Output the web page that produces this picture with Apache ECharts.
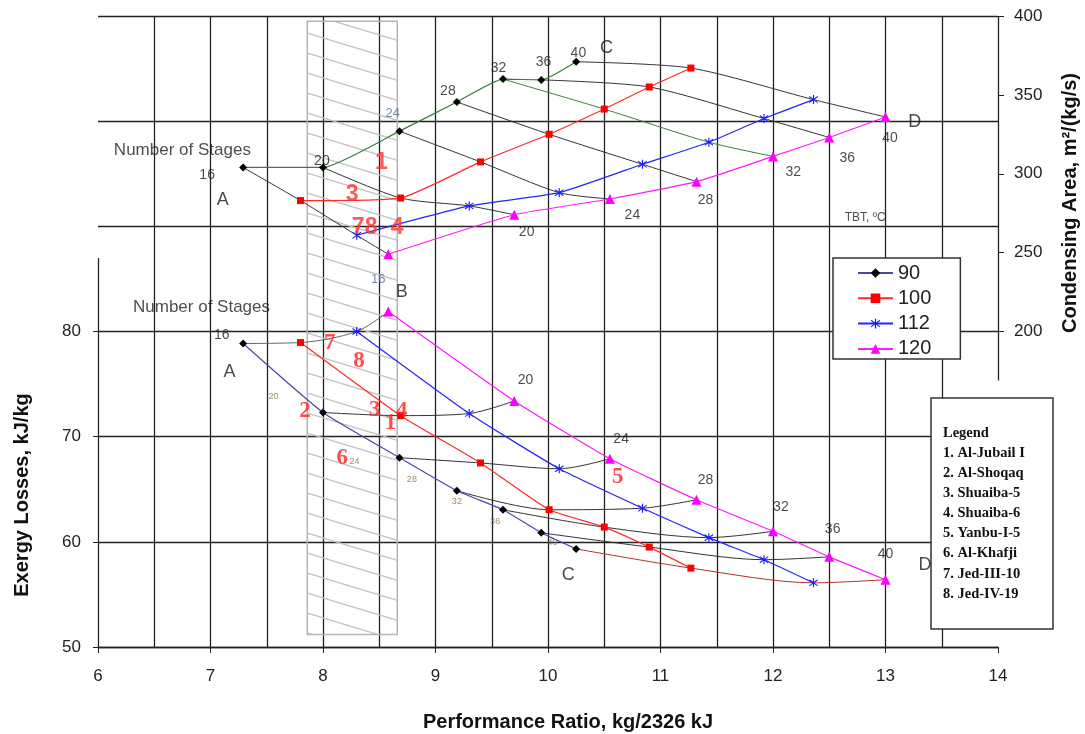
<!DOCTYPE html>
<html><head><meta charset="utf-8">
<script src="https://cdn.jsdelivr.net/npm/echarts@6/dist/echarts.min.js"></script>
<style>html,body{margin:0;padding:0;background:#fff}#c{width:1085px;height:734px}</style>
</head><body><div id="c"></div>
<script>
// ---------------- data ----------------
const stages = [16, 20, 24, 28, 32, 36, 40];
const tbtNames = ['90', '100', '112', '120'];
// performance ratio (x) for each TBT, per number of stages
const pr90  = [7.29, 8.00, 8.68, 9.19, 9.60, 9.94, 10.25];
const pr100 = [7.80, 8.69, 9.40, 10.01, 10.50, 10.90, 11.27];
const pr112 = [8.30, 9.30, 10.10, 10.84, 11.43, 11.92, 12.36];
const pr120 = [8.58, 9.70, 10.55, 11.32, 12.00, 12.50, 13.00];
// condensing area, m2/(kg/s) (upper family, right axis)
const area90  = [304, 304, 327, 345.5, 360, 359.5, 371];
const area100 = [283, 284.6, 307.5, 325, 341, 355, 367];
const area112 = [261, 279.6, 288, 306, 320, 335, 347];
const area120 = [249, 274, 284, 295, 311, 323, 336];
// exergy losses, kJ/kg (lower family, left axis)
const ex90  = [78.86, 72.3, 68.0, 64.86, 63.05, 60.86, 59.33];
const ex100 = [78.95, 72.0, 67.5, 63.05, 61.4, 59.5, 57.5];
const ex112 = [80.0, 72.2, 66.95, 63.2, 60.4, 58.3, 56.1];
const ex120 = [81.9, 73.4, 67.9, 64.0, 61.0, 58.57, 56.4];
// axis ticks
const xTicks = [6, 7, 8, 9, 10, 11, 12, 13, 14];
const leftTicks = [50, 60, 70, 80];
const rightTicks = [200, 250, 300, 350, 400];
// typical plant PR band (x range, left-axis y range)
const plantBandX = [7.86, 8.66];
const plantBandY = [51.2, 109.5];
// plants legend
const plantLines = ['Legend', '1. Al-Jubail I', '2. Al-Shoqaq', '3. Shuaiba-5', '4. Shuaiba-6',
  '5. Yanbu-I-5', '6. Al-Khafji', '7. Jed-III-10', '8. Jed-IV-19'];
// annotations [x, y, text]
const noteUp = [[6.97, 299, '16'], [7.99, 308, '20'], [9.11, 352.5, '28'], [9.56, 367, '32'], [9.96, 371, '36'],
  [10.27, 376.6, '40'], [9.81, 263, '20'], [10.75, 274, '24'], [11.4, 283.4, '28'], [12.18, 301, '32'],
  [12.66, 310, '36'], [13.04, 322.6, '40']];
const noteUpBlue = [[8.62, 338, '24'], [8.49, 233, '16']];
const lettersUp = [[7.11, 283.4, 'A'], [10.52, 380, 'C'], [13.26, 332.8, 'D'], [8.70, 225, 'B']];
const lettersLow = [[7.17, 76.1, 'A'], [10.18, 56.8, 'C'], [13.35, 57.8, 'D']];
const titleUp = [[6.75, 315, 'Number of Stages']];
const titleLow = [[6.92, 82.29, 'Number of Stages']];
const tbtNote = [[12.82, 272, 'TBT, ºC']];
const noteLow = [[7.10, 79.7, '16'], [9.80, 75.4, '20'], [10.65, 69.8, '24'], [11.4, 65.9, '28'],
  [12.07, 63.3, '32'], [12.53, 61.2, '36'], [13.0, 58.86, '40']];
const tinyLow = [[7.56, 73.8, '20'], [8.28, 67.6, '24'], [8.79, 65.9, '28'], [9.19, 63.8, '32'],
  [9.53, 61.9, '36'], [10.04, 59.9, '40']];
const redUp = [[8.52, 306.8, '1'], [8.26, 286.5, '3'], [8.37, 266, '78'], [8.66, 265.6, '4']];
const redLow = [[8.06, 78.86, '7'], [8.32, 77.2, '8'], [7.84, 72.4, '2'], [8.46, 72.5, '3'],
  [8.70, 72.4, '4'], [8.6, 71.3, '1'], [8.17, 68.0, '6'], [10.62, 66.2, '5']];

// ---------------- build ----------------
const SANS = '"Liberation Sans", Arial, sans-serif';
const SERIF = '"Liberation Serif", "Times New Roman", serif';
const ASTER = 'path://M4.4,0H5.6V10H4.4Z M0.3,2.1L0.9,1.1L9.7,7.9L9.1,8.9Z M0.3,7.9L9.1,1.1L9.7,2.1L0.9,8.9Z';
const prs = [pr90, pr100, pr112, pr120];
const areas = [area90, area100, area112, area120];
const exs = [ex90, ex100, ex112, ex120];
const upColors = ['#3c7d3c', '#ff2a2a', '#2424ff', '#ff1aff'];
const lowColors = ['#4848aa', '#ff2a2a', '#2424ff', '#ff1aff'];
const markColors = ['#000', '#ff0000', '#1a1aff', '#ff00ff'];
const symbols = ['diamond', 'rect', ASTER, 'triangle'];
const symSizes = [8, 7, 9, 10];
const GRIDC = '#222';

function zip(xs, ys) { return xs.map((x, i) => [x, ys[i]]); }

function hatch() {
  const c = document.createElement('canvas');
  c.width = 66; c.height = 20;
  const g = c.getContext('2d');
  g.strokeStyle = '#c4c4c4'; g.lineWidth = 1.3;
  for (const dy of [-20, 0, 20]) { g.beginPath(); g.moveTo(0, dy); g.lineTo(66, dy + 20); g.stroke(); }
  return c;
}

const series = [];
// constant-stage lines
stages.forEach((s, i) => {
  const upCol = s === 32 ? '#3c7d3c' : '#333';
  const lowCol = s === 40 ? '#b03030' : (s === 16 ? '#666' : '#333');
  series.push({
    type: 'line', name: 'up' + s, yAxisIndex: 1, symbol: 'none', smooth: 0.25, z: 2,
    lineStyle: { color: upCol, width: 1 }, data: prs.map((p, k) => [p[i], areas[k][i]])
  });
  series.push({
    type: 'line', name: 'low' + s, yAxisIndex: 0, symbol: 'none', smooth: 0.3, z: 2,
    lineStyle: { color: lowCol, width: 1 }, data: prs.map((p, k) => [p[i], exs[k][i]])
  });
});
// TBT curves
tbtNames.forEach((n, k) => {
  series.push({
    type: 'line', name: 'u' + n, yAxisIndex: 1, smooth: 0.15, z: 3,
    symbol: symbols[k], symbolSize: symSizes[k],
    lineStyle: { color: upColors[k], width: 1.2 }, itemStyle: { color: markColors[k] },
    data: zip(prs[k], areas[k])
  });
  const ser = {
    type: 'line', name: n, yAxisIndex: 0, smooth: 0.15, z: 3,
    symbol: symbols[k], symbolSize: symSizes[k],
    lineStyle: { color: lowColors[k], width: 1.2 }, itemStyle: { color: markColors[k] },
    data: zip(prs[k], exs[k])
  };
  if (k === 0) {
    ser.markArea = {
      silent: true,
      itemStyle: { color: { image: hatch(), repeat: 'repeat' }, borderColor: '#b5b5b5', borderWidth: 1.5, opacity: 1 },
      data: [[{ coord: [plantBandX[0], plantBandY[1]] }, { coord: [plantBandX[1], plantBandY[0]] }]]
    };
  }
  series.push(ser);
});

function notes(data, axis, style, extra) {
  return Object.assign({
    type: 'scatter', yAxisIndex: axis, symbolSize: 1, itemStyle: { color: 'rgba(0,0,0,0)' }, silent: true, z: 10, clip: false,
    data: data.map(d => [d[0], d[1], d[2]]),
    label: Object.assign({ show: true, position: 'inside', formatter: p => p.value[2], fontFamily: SANS }, style)
  }, extra || {});
}
series.push(notes(noteUp, 1, { fontSize: 14, color: '#1a1a1a' }));
series.push(notes(noteUpBlue, 1, { fontSize: 13, color: '#4f7195' }));
series.push(notes(lettersUp, 1, { fontSize: 18, color: '#1a1a1a' }));
series.push(notes(lettersLow, 0, { fontSize: 18, color: '#1a1a1a' }));
series.push(notes(titleUp, 1, { fontSize: 17, color: '#222' }));
series.push(notes(titleLow, 0, { fontSize: 17, color: '#222' }));
series.push(notes(tbtNote, 1, { fontSize: 12, color: '#222' }));
series.push(notes(noteLow, 0, { fontSize: 14, color: '#1a1a1a' }));
series.push(notes(tinyLow, 0, { fontSize: 9, color: '#8a6d50' }));
series.push(notes(redUp, 1, { fontSize: 23, color: '#ff3030', fontWeight: 'bold' }));
series.push(notes(redLow, 0, { fontSize: 23, color: '#ff2020', fontFamily: SERIF, fontWeight: 'bold' }));
// partial axis lines
series.push(notes([], 0, {}, {
  markLine: { silent: true, symbol: 'none', label: { show: false }, lineStyle: { color: GRIDC, width: 1.3, type: 'solid' },
    data: [[{ coord: [6, 50] }, { coord: [6, 87] }]] }
}));
series.push(notes([], 1, {}, {
  markLine: { silent: true, symbol: 'none', label: { show: false }, lineStyle: { color: GRIDC, width: 1.3, type: 'solid' },
    data: [[{ coord: [14, 169] }, { coord: [14, 400] }]] }
}));

const labelStyle = { fontSize: 17, color: '#222', fontFamily: SANS };
const option = {
  animation: false,
  backgroundColor: '#fff',
  grid: { left: 98, right: 87, top: 16, bottom: 87 },
  xAxis: [{
    // grid of half units
    type: 'value', min: 6, max: 14, interval: 0.5,
    axisLine: { show: true, lineStyle: { color: GRIDC, width: 1.3 } },
    axisTick: { show: false }, axisLabel: { show: false },
    splitLine: { show: true, showMinLine: false, showMaxLine: false, lineStyle: { color: GRIDC, width: 1.3 } }
  }, {
    // labelled integer ticks
    type: 'value', min: 6, max: 14, interval: 1, position: 'bottom',
    axisLine: { show: false }, splitLine: { show: false },
    axisTick: { show: true, length: 6, lineStyle: { color: GRIDC } },
    axisLabel: Object.assign({ margin: 21 }, labelStyle)
  }],
  yAxis: [{
    type: 'value', min: 50, max: 110, interval: 10, position: 'left',
    axisLine: { show: false }, axisTick: { show: false }, axisLabel: { show: false },
    splitLine: { show: true, lineStyle: { color: GRIDC, width: 1.3 } }
  }, {
    type: 'value', min: 0, max: 400, interval: 50, position: 'right',
    axisLine: { show: false },
    axisTick: { show: true, length: 6, customValues: rightTicks, lineStyle: { color: GRIDC } },
    axisLabel: Object.assign({ customValues: rightTicks, margin: 16,
      formatter: v => (v >= 200 ? String(v) : '') }, labelStyle),
    splitLine: { show: false }
  }, {
    type: 'value', min: 50, max: 110, interval: 10, position: 'left',
    axisLine: { show: false }, splitLine: { show: false },
    axisTick: { show: true, length: 5, customValues: leftTicks, lineStyle: { color: GRIDC } },
    axisLabel: Object.assign({ customValues: leftTicks, margin: 17,
      formatter: v => (v <= 80 ? String(v) : '') }, labelStyle)
  }],
  legend: {
    data: tbtNames, orient: 'vertical', left: 833, top: 258,
    padding: [5, 29, 0, 24], itemGap: 5.3, itemWidth: 35, itemHeight: 12,
    backgroundColor: '#fff', borderColor: '#333', borderWidth: 1.5,
    textStyle: { fontSize: 20, lineHeight: 20, color: '#222', fontFamily: SANS },
    selectedMode: false
  },
  graphic: [
    { type: 'rect', z: 100, shape: { x: 931, y: 398, width: 122, height: 231 },
      style: { fill: '#fff', stroke: '#333', lineWidth: 1.5 } },
    { type: 'text', z: 101, x: 943, y: 423,
      style: { text: plantLines.join('\n'), font: 'bold 14.5px ' + SERIF, fill: '#111', lineHeight: 20.1 } },
    { type: 'text', z: 101, x: 22, y: 495, rotation: Math.PI / 2,
      style: { text: 'Exergy Losses, kJ/kg', font: 'bold 20px ' + SANS, fill: '#111', align: 'center', verticalAlign: 'middle' } },
    { type: 'text', z: 101, x: 1070, y: 203, rotation: Math.PI / 2,
      style: { text: 'Condensing Area, m²/(kg/s)', font: 'bold 20px ' + SANS, fill: '#111', align: 'center', verticalAlign: 'middle' } },
    { type: 'text', z: 101, x: 568, y: 722,
      style: { text: 'Performance Ratio, kg/2326 kJ', font: 'bold 20px ' + SANS, fill: '#111', align: 'center', verticalAlign: 'middle' } }
  ],
  series: series
};
const chart = echarts.init(document.getElementById('c'));
chart.setOption(option);
</script>
</body></html>
